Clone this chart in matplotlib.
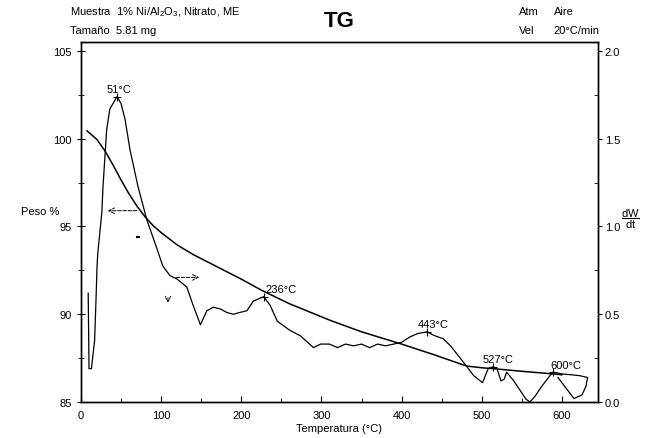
import numpy as np
import matplotlib.pyplot as plt

# ============================================
# TG / DTG curve - 1% Ni/Al2O3, nitrato
# ============================================

plt.rcParams['font.family'] = ['Liberation Sans', 'DejaVu Sans']
plt.rcParams['mathtext.fontset'] = 'custom'
plt.rcParams['mathtext.rm'] = 'Liberation Sans'

# weight curve (left axis, %)
peso_T = [7.5, 20, 30, 40, 50, 60, 70, 80, 90, 100, 120, 140, 170, 200, 226,
          260, 311, 350, 400, 440, 481, 500, 514, 550, 589, 600]
peso = [100.45, 99.95, 99.3, 98.5, 97.65, 96.85, 96.15, 95.55, 95.05, 94.65,
        93.95, 93.4, 92.7, 92.0, 91.35, 90.6, 89.65, 89.0, 88.3, 87.7, 87.05,
        86.95, 86.9, 86.75, 86.6, 86.55]

# derivative curve (right axis, dW/dt)
dtg_T = [9, 10, 13, 17, 19, 20, 21, 26, 27.5, 32, 36, 45, 50, 55, 61, 71, 82,
         95, 102, 111, 120, 132, 140, 149, 157, 165, 174, 182, 190, 198, 207,
         215, 228, 236, 245, 260, 274, 290, 299, 310, 320, 330, 340, 350, 360,
         370, 380, 390, 400, 410, 420, 432, 440, 452, 461, 474, 490, 501, 508,
         514, 519, 524, 528, 531, 540, 555, 560, 566, 575, 585, 589, 600, 612,
         622, 632, 630, 625, 615, 605, 595]
dtg = [0.62, 0.19, 0.19, 0.35, 0.62, 0.775, 0.85, 1.08, 1.23, 1.55, 1.67, 1.74,
       1.70, 1.61, 1.44, 1.23, 1.04, 0.87, 0.775, 0.72, 0.70, 0.655, 0.55, 0.44,
       0.52, 0.54, 0.53, 0.51, 0.50, 0.51, 0.52, 0.575, 0.60, 0.55, 0.46, 0.41,
       0.376, 0.31, 0.33, 0.33, 0.31, 0.33, 0.32, 0.33, 0.31, 0.33, 0.32, 0.33,
       0.34, 0.37, 0.39, 0.40, 0.38, 0.36, 0.32, 0.245, 0.15, 0.11, 0.19, 0.20,
       0.19, 0.12, 0.13, 0.17, 0.12, 0.017, 0.0, 0.03, 0.09, 0.15, 0.17, 0.16,
       0.155, 0.15, 0.14, 0.09, 0.04, 0.02, 0.08, 0.14]

picos_T = [45, 228, 432, 514, 589]
picos_v = [1.74, 0.60, 0.40, 0.20, 0.17]
picos_txt = ['51°C', '236°C', '443°C', '527°C', '600°C']
picos_dx = [2, 22, 8, 6, 16]   # label shift, °C

fig = plt.figure(figsize=(6.49, 4.39), dpi=100)
ax = fig.add_axes([0.1248, 0.082, 0.7966, 0.820])
ax2 = ax.twinx()

ax.plot(peso_T, peso, color='black', lw=1.1)
ax2.plot(dtg_T, dtg, color='black', lw=0.9)
ax2.plot(picos_T, picos_v, '+', color='black', ms=6, mew=0.8)
for t, v, s, dx in zip(picos_T, picos_v, picos_txt, picos_dx):
    ax2.text(t + dx, v + 0.015, s, fontsize=8, ha='center', va='bottom')

# arrows telling which axis each curve uses
ax.annotate('', xy=(30, 95.9), xytext=(73, 95.9),
            arrowprops=dict(arrowstyle='->', ls='--', lw=0.7, color='black'))
ax2.annotate('', xy=(151, 0.71), xytext=(115, 0.71),
             arrowprops=dict(arrowstyle='->', ls='--', lw=0.7, color='black'))
ax.plot([70, 72], [94.4, 94.4], color='black', lw=1.5)
ax.annotate('', xy=(108.5, 90.5), xytext=(108.5, 91.1),
            arrowprops=dict(arrowstyle='->', lw=0.6, color='black'))

ax.set_xlim(0, 645)
ax.set_ylim(85, 105.51)
ax2.set_ylim(0, 2.051)

ax.set_xticks([0, 100, 200, 300, 400, 500, 600])
ax.set_xticks(np.arange(50, 645, 100), minor=True)
ax.set_yticks([85, 90, 95, 100, 105])
ax.set_yticks([87.5, 92.5, 97.5, 102.5], minor=True)
ax2.set_yticks([0.0, 0.5, 1.0, 1.5, 2.0])
ax2.set_yticks([0.25, 0.75, 1.25, 1.75], minor=True)
ax2.set_yticklabels(['0.0', '0.5', '1.0', '1.5', '2.0'])

ax.tick_params(axis='y', direction='inout', length=6, labelsize=8)
ax.tick_params(axis='y', which='minor', direction='inout', length=4)
ax.tick_params(axis='x', direction='in', length=4, labelsize=8, pad=6)
ax.tick_params(axis='x', which='minor', direction='in', length=3)
ax2.tick_params(axis='y', direction='out', length=3, labelsize=8, pad=2)
ax2.tick_params(axis='y', which='minor', direction='in', length=3)

for a in (ax, ax2):
    for sp in a.spines.values():
        sp.set_linewidth(1.0)

ax.set_xlabel('Temperatura (°C)', fontsize=8, labelpad=2)
fig.text(0.032, 0.517, 'Peso %', fontsize=8, ha='left', va='center')
fig.text(0.972, 0.50, r'$\dfrac{\mathrm{dW}}{\mathrm{dt}}$', fontsize=8,
         ha='center', va='center')

# header
fig.text(0.108, 0.972, r'Muestra  1% Ni/Al$_2$O$_3$, Nitrato, ME', fontsize=8, va='center')
fig.text(0.108, 0.930, 'Tamaño  5.81 mg', fontsize=8, va='center')
fig.text(0.522, 0.952, 'TG', fontsize=16, fontweight='bold', ha='center', va='center')
fig.text(0.800, 0.972, 'Atm', fontsize=8, va='center')
fig.text(0.853, 0.972, 'Aire', fontsize=8, va='center')
fig.text(0.800, 0.930, 'Vel', fontsize=8, va='center')
fig.text(0.853, 0.930, '20°C/min', fontsize=8, va='center')

plt.savefig('out.png', dpi=100)
plt.close()
